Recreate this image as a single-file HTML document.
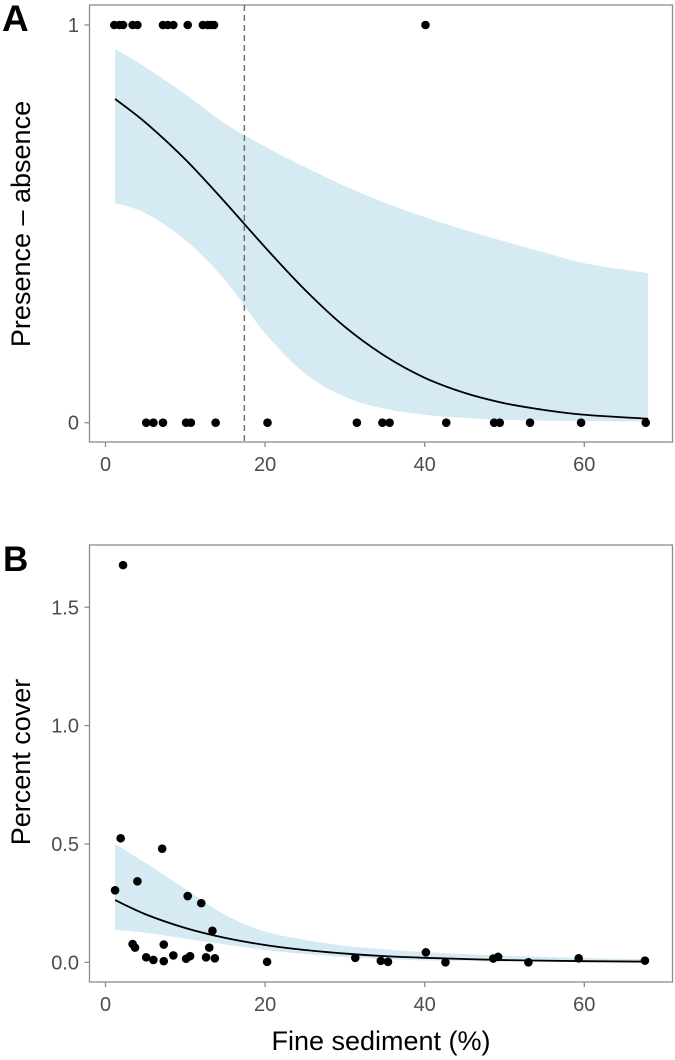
<!DOCTYPE html>
<html><head><meta charset="utf-8"><style>
body{margin:0;background:#fff;}
svg{display:block;font-family:"Liberation Sans",Arial,sans-serif;}
</style></head><body>
<svg id="chart" width="675" height="1060" viewBox="0 0 675 1060" xmlns="http://www.w3.org/2000/svg"></svg>
<script>
// Panel A data
const presenceX = [1.1,1.75,2.2,3.4,4.0,7.2,7.8,8.5,10.3,12.2,12.8,13.2,13.6,40.1];
const absenceX = [5.1,6.0,7.2,10.1,10.7,13.8,20.3,31.5,34.7,35.6,42.7,48.7,49.4,53.2,59.6,67.7];
const thresholdX = 17.4;
const gridA = [1.2,5,10,15,20,25,30,35,40,45,50,55,60,68];
const fitA = [0.814,0.755,0.662,0.554,0.441,0.334,0.241,0.168,0.113,0.075,0.049,0.032,0.020,0.010];
const upperA = [0.94,0.894,0.826,0.752,0.694,0.643,0.595,0.553,0.517,0.485,0.456,0.428,0.401,0.376];
const lowerA = [0.552,0.527,0.459,0.358,0.225,0.124,0.065,0.035,0.02,0.012,0.007,0.005,0.004,0.003];
// Panel B data
const coverX = [1.2,1.9,2.2,4.0,7.1,10.3,12.0,13.4,3.4,3.7,7.3,13.0,5.1,6.0,7.3,8.5,10.1,10.6,12.6,13.7,20.25,31.3,34.5,35.4,40.15,42.6,48.6,49.2,53.0,59.3,67.6];
const coverY = [0.304,0.524,1.678,0.342,0.48,0.28,0.25,0.133,0.077,0.062,0.075,0.062,0.021,0.01,0.005,0.029,0.015,0.026,0.021,0.017,0.002,0.019,0.006,0.002,0.042,0.0,0.016,0.023,0.0,0.017,0.007];
const gridB = [1.2,5,10,15,20,25,30,35,40,50,60,68];
const fitB = [0.263,0.203,0.145,0.103,0.073,0.052,0.037,0.026,0.019,0.0095,0.0048,0.0028];
const upperB = [0.50,0.42,0.31,0.20,0.13,0.095,0.07,0.055,0.043,0.028,0.018,0.013];
const lowerB = [0.137,0.125,0.10,0.075,0.052,0.035,0.022,0.014,0.008,0.003,0.001,0.0005];
const xTicks = [0,20,40,60];
const yTicksA = [0,1];
const yTicksB = [0,0.5,1.0,1.5];
const yTickLabelsB = ["0.0","0.5","1.0","1.5"];

const NS = "http://www.w3.org/2000/svg";
const svg = document.getElementById('chart');
function mk(tag, attrs, parent){const e=document.createElementNS(NS,tag);for(const k in attrs)e.setAttribute(k,attrs[k]);(parent||svg).appendChild(e);return e;}
const xs = v => 105.5 + v*7.98;
const yA = v => 422.7 - v*397.7;
const yB = v => 962.3 - v*236.7;
function segs(pts){
  let d="";
  for(let i=0;i<pts.length-1;i++){
    const p0=pts[Math.max(0,i-1)],p1=pts[i],p2=pts[i+1],p3=pts[Math.min(pts.length-1,i+2)];
    const c1=[p1[0]+(p2[0]-p0[0])/6,p1[1]+(p2[1]-p0[1])/6];
    const c2=[p2[0]-(p3[0]-p1[0])/6,p2[1]-(p3[1]-p1[1])/6];
    d+=" C"+c1[0]+","+c1[1]+" "+c2[0]+","+c2[1]+" "+p2[0]+","+p2[1];
  }
  return d;
}
function smooth(pts){return "M"+pts[0][0]+","+pts[0][1]+segs(pts);}
function band(grid, up, lo, ys){
  const u = grid.map((g,i)=>[xs(g),ys(up[i])]);
  const l = grid.map((g,i)=>[xs(g),ys(lo[i])]).reverse();
  return smooth(u)+" L"+l[0][0]+","+l[0][1]+segs(l)+" Z";
}
function panel(id, top, bottom, ys, grid, fit, up, lo, yticks, ylabels){
  const g = mk('g',{});
  
  
  mk('rect',{x:89.5,y:top,width:583,height:bottom-top,fill:'#fff'},g);
  const b = mk('path',{d:band(grid,up,lo,ys),fill:'#d5eaf2'},g);
  
  
  const l = mk('path',{d:smooth(grid.map((v,i)=>[xs(v),ys(fit[i])])),fill:'none',stroke:'#000','stroke-width':1.8},g);
  
  
  const fr = mk('rect',{x:89.5,y:top,width:583,height:bottom-top,fill:'none',stroke:'#8c8c8c','stroke-width':1.3},g);
  
  
  xTicks.forEach(t=>{
    const tk = mk('line',{x1:xs(t),x2:xs(t),y1:bottom,y2:bottom+5,stroke:'#8c8c8c','stroke-width':1.3},g);
    
    
    const tx = mk('text',{x:xs(t),y:bottom+29,'text-anchor':'middle','font-size':20,fill:'#4d4d4d'},g);
    tx.textContent = t;
    
    
  });
  yticks.forEach((t,i)=>{
    const tk = mk('line',{x1:84.5,x2:89.5,y1:ys(t),y2:ys(t),stroke:'#8c8c8c','stroke-width':1.3},g);
    
    
    const tx = mk('text',{x:79,y:ys(t)+7,'text-anchor':'end','font-size':20,fill:'#4d4d4d'},g);
    tx.textContent = ylabels[i];
    
    
  });
  return g;
}
const gA = panel('a',5,442,yA,gridA,fitA,upperA,lowerA,yTicksA,["0","1"]);
const th = mk('line',{x1:xs(thresholdX),x2:xs(thresholdX),y1:5,y2:442,stroke:'#707070','stroke-width':1.5,'stroke-dasharray':'6,4'},gA);


presenceX.forEach(v=>{
  const c = mk('circle',{cx:xs(v),cy:yA(1),r:4.3,fill:'#000'},gA);
  
  
});
absenceX.forEach(v=>{
  const c = mk('circle',{cx:xs(v),cy:yA(0),r:4.3,fill:'#000'},gA);
  
  
});
const gB = panel('b',545,982,yB,gridB,fitB,upperB,lowerB,yTicksB,yTickLabelsB);
coverX.forEach((v,i)=>{
  const c = mk('circle',{cx:xs(v),cy:yB(coverY[i]),r:4.3,fill:'#000'},gB);
  
  
});
function txt(s,attrs,name){const t=mk('text',attrs);t.textContent=s;return t;}
txt('A',{x:2,y:31,'font-size':37,'font-weight':'bold',fill:'#000'},'panel-label-a');
txt('B',{x:3,y:571,'font-size':35,'font-weight':'bold',fill:'#000'},'panel-label-b');
txt('Presence – absence',{x:0,y:0,'font-size':27,'text-anchor':'middle',fill:'#000',transform:'translate(30,224) rotate(-90)'},'y-axis-title-a');
txt('Percent cover',{x:0,y:0,'font-size':27,'text-anchor':'middle',fill:'#000',transform:'translate(30,762) rotate(-90)'},'y-axis-title-b');
txt('Fine sediment (%)',{x:381,y:1050,'font-size':27,'text-anchor':'middle',fill:'#000'},'x-axis-title');
</script>
</body></html>
